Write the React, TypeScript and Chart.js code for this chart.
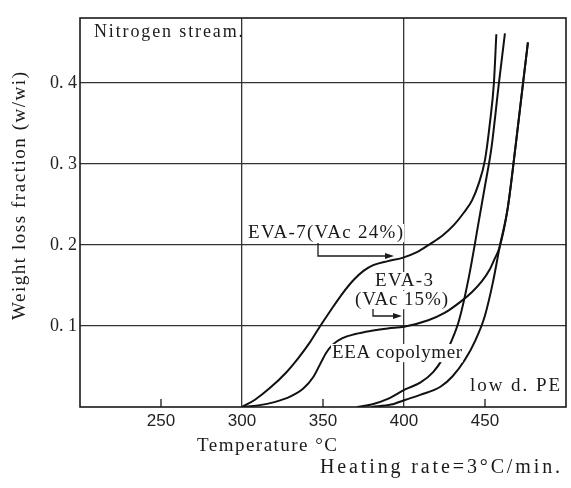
import React, { useEffect, useRef } from "react";
import { Chart, registerables } from "chart.js";

Chart.register(...registerables);

// ---- axis data ----
const xTickValues = [250, 300, 350, 400, 450];
const xTickLabels = ["250", "300", "350", "400", "450"];
const xGridValues = [300, 400];
const yTickValues = [0.1, 0.2, 0.3, 0.4];
const yTickLabels = ["0. 1", "0. 2", "0. 3", "0. 4"];

// ---- series: temperature (°C) and weight loss fraction ----
const eva7T = [300, 308, 317, 327, 335, 342, 348, 355, 362, 369, 375, 381, 390, 399, 408, 416, 424, 431, 437, 442, 446, 450, 453, 455.5, 457];
const eva7W = [0, 0.009, 0.023, 0.042, 0.061, 0.08, 0.099, 0.12, 0.14, 0.157, 0.168, 0.175, 0.18, 0.184, 0.191, 0.201, 0.212, 0.225, 0.24, 0.255, 0.275, 0.305, 0.35, 0.4, 0.46];

const eva3T = [300, 310, 320, 330, 338, 344, 348, 352, 356, 362, 370, 380, 390, 400, 415, 425, 435, 442, 448, 453, 456, 459, 464, 469, 473.5, 476.5];
const eva3W = [0, 0.002, 0.006, 0.013, 0.023, 0.037, 0.052, 0.067, 0.077, 0.085, 0.09, 0.094, 0.097, 0.099, 0.107, 0.116, 0.13, 0.142, 0.155, 0.17, 0.183, 0.197, 0.245, 0.324, 0.4, 0.45];

const eeaT = [371, 380, 390, 401, 410, 418, 424, 429, 434, 440, 446.5, 450, 454, 458.6, 462.3];
const eeaW = [0, 0.003, 0.01, 0.022, 0.03, 0.043, 0.06, 0.08, 0.107, 0.16, 0.233, 0.273, 0.32, 0.4, 0.461];

const ldpeT = [380, 392, 401, 410, 422.5, 430, 437.5, 444, 450, 455, 459, 464, 469, 473.5, 476.5];
const ldpeW = [0, 0.003, 0.009, 0.015, 0.025, 0.038, 0.058, 0.082, 0.113, 0.155, 0.197, 0.245, 0.324, 0.4, 0.45];

const seriesNames = ["EVA-7 (VAc 24%)", "EVA-3 (VAc 15%)", "EEA copolymer", "low d. PE"];

const SERIF = '"Liberation Serif", "Times New Roman", serif';
const SANS = '"Liberation Sans", Arial, sans-serif';
const INK = "#1a1a1a";

function toPoints(t: number[], w: number[]) {
  return t.map((x, i) => ({ x, y: w[i] }));
}

function fitText(
  ctx: CanvasRenderingContext2D,
  text: string,
  x: number,
  y: number,
  width: number,
  size: number,
  bg: boolean
) {
  ctx.save();
  ctx.font = `${size}px ${SERIF}`;
  (ctx as any).letterSpacing = "0px";
  const w0 = ctx.measureText(text).width;
  const n = Array.from(text).length;
  let ls = n > 1 ? (width - w0) / (n - 1) : 0;
  if (ls < -1) ls = -1;
  (ctx as any).letterSpacing = `${ls}px`;
  if (bg) {
    ctx.fillStyle = "#ffffff";
    ctx.fillRect(x - 1, y - size * 0.74, width + 2, size * 0.96);
  }
  ctx.fillStyle = INK;
  ctx.textAlign = "left";
  ctx.textBaseline = "alphabetic";
  ctx.fillText(text, x, y);
  ctx.restore();
}

function drawArrow(ctx: CanvasRenderingContext2D, pts: number[][], tipX: number) {
  ctx.save();
  ctx.strokeStyle = INK;
  ctx.fillStyle = INK;
  ctx.lineWidth = 1.3;
  ctx.beginPath();
  ctx.moveTo(pts[0][0], pts[0][1]);
  for (let i = 1; i < pts.length; i++) ctx.lineTo(pts[i][0], pts[i][1]);
  ctx.stroke();
  const y = pts[pts.length - 1][1];
  ctx.beginPath();
  ctx.moveTo(tipX, y);
  ctx.lineTo(tipX - 9, y - 3);
  ctx.lineTo(tipX - 9, y + 3);
  ctx.closePath();
  ctx.fill();
  ctx.restore();
}

const decorPlugin = {
  id: "decor",
  afterDatasetsDraw(chart: any) {
    const ctx: CanvasRenderingContext2D = chart.ctx;
    const { left, right, top, bottom } = chart.chartArea;
    const xs = chart.scales.x;

    // in-plot labels
    fitText(ctx, "Nitrogen stream.", 94, 37, 149, 18, false);
    fitText(ctx, "EVA-7(VAc 24%)", 248, 238, 155, 19, true);
    fitText(ctx, "EVA-3", 375, 286, 58, 19, true);
    fitText(ctx, "(VAc 15%)", 355, 305, 93, 19, true);
    fitText(ctx, "EEA copolymer", 332, 358, 130, 19, true);
    fitText(ctx, "low d. PE", 470, 391, 90, 19, true);

    drawArrow(ctx, [[318, 243], [318, 256], [386, 256]], 394);
    drawArrow(ctx, [[373, 309], [373, 316], [394, 316]], 402);

    // inner tick marks on the temperature axis
    ctx.save();
    ctx.strokeStyle = INK;
    ctx.lineWidth = 1.3;
    xTickValues.forEach((v) => {
      if (xGridValues.includes(v)) return;
      const px = xs.getPixelForValue(v);
      ctx.beginPath();
      ctx.moveTo(px, bottom);
      ctx.lineTo(px, bottom - 8);
      ctx.stroke();
    });
    // frame
    ctx.lineWidth = 1.6;
    ctx.strokeRect(left, top, right - left, bottom - top);
    ctx.restore();
  },
  afterDraw(chart: any) {
    const ctx: CanvasRenderingContext2D = chart.ctx;
    fitText(ctx, "Temperature \u00B0C", 197, 451, 140, 19, false);
    fitText(ctx, "Heating rate=3\u00B0C/min.", 320, 473, 240, 20, false);
    ctx.save();
    ctx.translate(25, 320);
    ctx.rotate(-Math.PI / 2);
    fitText(ctx, "Weight loss fraction (w/wi)", 0, 0, 248, 19, false);
    ctx.restore();
  },
};

export default function App() {
  const canvasRef = useRef<HTMLCanvasElement | null>(null);

  useEffect(() => {
    if (!canvasRef.current) return;
    const series = [
      toPoints(eva7T, eva7W),
      toPoints(eva3T, eva3W),
      toPoints(eeaT, eeaW),
      toPoints(ldpeT, ldpeW),
    ];
    const chart = new Chart(canvasRef.current, {
      type: "line",
      data: {
        datasets: series.map((data, i) => ({
          label: seriesNames[i],
          data,
          borderColor: "#111111",
          borderWidth: 2,
          pointRadius: 0,
          fill: false,
          cubicInterpolationMode: "monotone" as const,
        })),
      },
      options: {
        animation: false,
        responsive: true,
        maintainAspectRatio: false,
        layout: { padding: { top: 18, right: 5, left: 0, bottom: 0 } },
        plugins: {
          legend: { display: false },
          tooltip: { enabled: false },
          title: { display: false },
        },
        scales: {
          x: {
            type: "linear",
            min: 200,
            max: 500,
            afterBuildTicks: (s: any) => {
              s.ticks = xTickValues.map((v) => ({ value: v }));
            },
            afterFit: (s: any) => {
              s.height = 81;
            },
            ticks: {
              autoSkip: false,
              maxRotation: 0,
              padding: 4,
              color: "#222",
              font: { family: SANS, size: 17 },
              callback: (_v: any, i: number) => xTickLabels[i],
            },
            grid: {
              drawTicks: false,
              lineWidth: 1.3,
              color: (c: any) =>
                c.tick && xGridValues.includes(c.tick.value) ? "#333333" : "rgba(0,0,0,0)",
            },
            border: { display: false },
          },
          y: {
            type: "linear",
            min: 0,
            max: 0.48,
            afterBuildTicks: (s: any) => {
              s.ticks = yTickValues.map((v) => ({ value: v }));
            },
            afterFit: (s: any) => {
              s.width = 80;
            },
            ticks: {
              padding: 3,
              color: "#222",
              font: { family: SERIF, size: 18 },
              callback: (_v: any, i: number) => yTickLabels[i],
            },
            grid: { drawTicks: false, lineWidth: 1.3, color: "#333333" },
            border: { display: false },
          },
        },
      },
      plugins: [decorPlugin],
    } as any);
    return () => chart.destroy();
  }, []);

  return (
    <div style={{ position: "absolute", left: 0, top: 0, width: 571, height: 488, background: "#fff" }}>
      <canvas ref={canvasRef} />
    </div>
  );
}
